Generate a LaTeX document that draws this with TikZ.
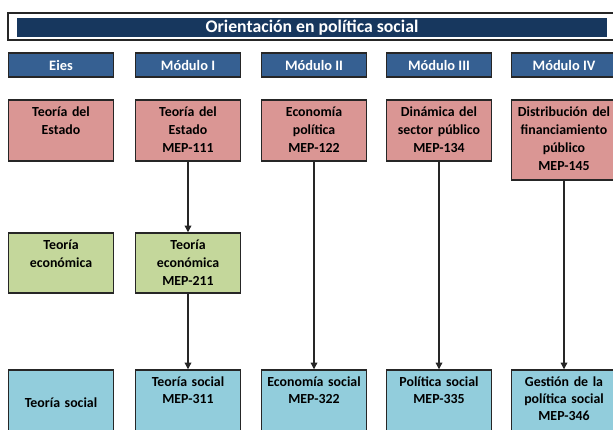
\documentclass[tikz,border=0pt]{standalone}
\usepackage{fontspec}
\setmainfont{Carlito}
\usepackage{tikz}
\usetikzlibrary{positioning,arrows.meta}
\definecolor{navy}{HTML}{17375E}
\definecolor{headblue}{HTML}{366092}
\definecolor{rojo}{HTML}{DA9694}
\definecolor{verde}{HTML}{C4D79B}
\definecolor{celeste}{HTML}{92CDDC}
\definecolor{borde}{HTML}{262626}
\tikzstyle{arrow} = [line width=0.9pt, draw=borde, -{Triangle[length=5pt,width=5pt]}]
\tikzstyle{head} = [rectangle, draw=borde, line width=1.1pt, fill=headblue, minimum width=78.75pt, minimum height=18pt, inner sep=0pt, text=white, font=\bfseries\fontsize{10.8}{12}\selectfont]
\tikzset{
	cell/.style = {rectangle, draw=borde, line width=1.1pt,
		minimum width=78.75pt, text width=77pt, inner xsep=0.5pt, inner ysep=2.25pt,
		text height=9.75pt, align=center,
		font=\bfseries\fontsize{10.4}{13.5}\selectfont},
	lowcell/.style = {cell, fill=celeste, text depth=32.25pt,
		font=\bfseries\fontsize{10.4}{12.75}\selectfont},
}

\begin{document}
\begin{tikzpicture}[x=0.75pt, y=-0.75pt]
\useasboundingbox (0,0) rectangle (613,429);
\clip (0,0) rectangle (613,429);
%----------------------------------------------------------------------------
% Title
\draw [draw=borde, line width=1.1pt, fill=white] (8,13) rectangle (622,40);
\node (title) [fill=navy, minimum width=442.5pt, minimum height=14.25pt, inner sep=0pt, text=white, font=\bfseries\fontsize{13.3}{15}\selectfont] at (312,27.5) {Orientación en política social};

%----------------------------------------------------------------------------
% Column headers
\node (eies) [head] at (61,65) {Eies};
\node (modI) [head, right=15.4pt of eies] {Módulo I};
\node (modII) [head, right=14.65pt of modI] {Módulo II};
\node (modIII) [head, right=13.9pt of modII] {Módulo III};
\node (modIV) [head, right=13.9pt of modIII] {Módulo IV};

%----------------------------------------------------------------------------
% First row
\node (estado) [cell, fill=rojo, text depth=31.5pt, below=16.15pt of eies] {Teoría del\\Estado};
\node (mepI) [cell, fill=rojo, text depth=31.5pt, below=16.15pt of modI] {Teoría del\\Estado\\MEP-111};
\node (mepII) [cell, fill=rojo, text depth=31.5pt, below=16.15pt of modII] {Economía\\política\\MEP-122};
\node (mepIII) [cell, fill=rojo, text depth=31.5pt, below=16.15pt of modIII] {Dinámica del\\sector público\\MEP-134};
\node (mepIV) [cell, fill=rojo, text depth=45.75pt, below=16.15pt of modIV] {Distribución del\\financiamiento\\público\\MEP-145};

% Second row
\node (economica) [cell, fill=verde, text depth=30.75pt, below=52.9pt of estado] {Teoría\\económica};
\node (mepIb) [cell, fill=verde, text depth=30.75pt, below=52.9pt of mepI] {Teoría\\económica\\MEP-211};

% Third row
\node (social) [cell, fill=celeste, minimum height=46.5pt, below=56.65pt of economica] {Teoría social};
\node (mepIc) [lowcell, below=56.65pt of mepIb] {Teoría social\\MEP-311};
\node (mepIIc) [lowcell, anchor=north] at (mepII |- mepIc.north) {Economía social\\MEP-322};
\node (mepIIIc) [lowcell, anchor=north] at (mepIII |- mepIc.north) {Política social\\MEP-335};
\node (mepIVc) [lowcell, anchor=north] at (mepIV |- mepIc.north) {Gestión de la\\política social\\MEP-346};

%----------------------------------------------------------------------------
% Draw lines
\draw [arrow] (mepI) -- (mepIb);
\draw [arrow] (mepIb) -- (mepIc);
\draw [arrow] (mepII) -- (mepIIc);
\draw [arrow] (mepIII) -- (mepIIIc);
\draw [arrow] (mepIV) -- (mepIVc);

\end{tikzpicture}
\end{document}
